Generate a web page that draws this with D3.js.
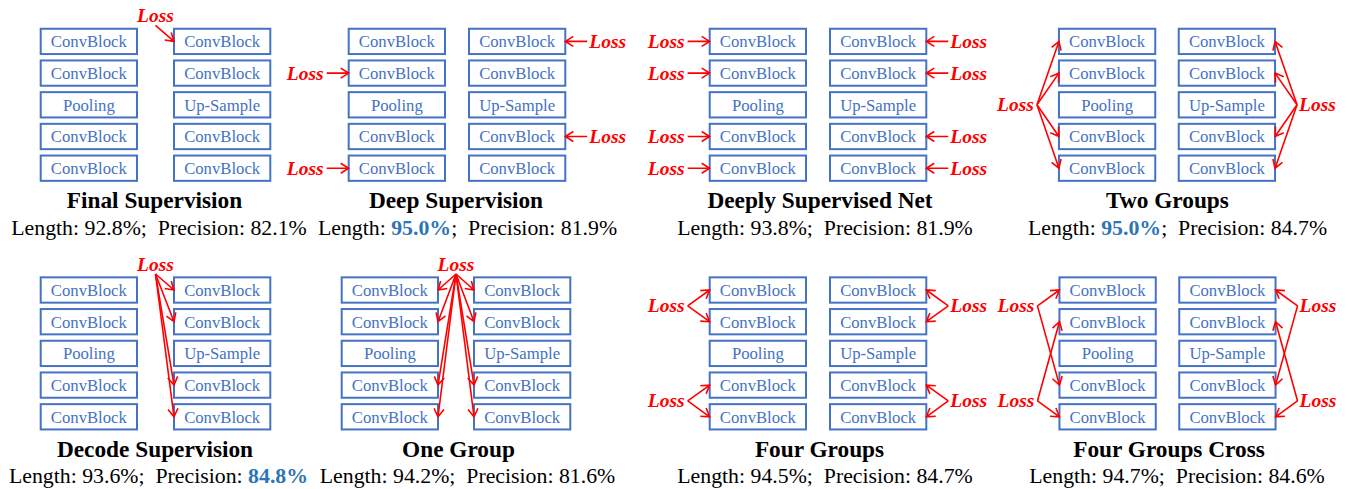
<!DOCTYPE html>
<html>
<head>
<meta charset="utf-8">
<script src="https://cdn.jsdelivr.net/npm/d3@7"></script>
<style>
  body { margin: 0; background: #fff; }
</style>
</head>
<body>
<div id="canvas"></div>
<script>
/* Data */
const panelTitles = ["Final Supervision", "Deep Supervision", "Deeply Supervised Net", "Two Groups",
                     "Decode Supervision", "One Group", "Four Groups", "Four Groups Cross"]
const lengthValues = [92.8, 95.0, 93.8, 95.0, 93.6, 94.2, 94.5, 94.7]
const precisionValues = [82.1, 81.9, 81.9, 84.7, 84.8, 81.6, 84.7, 84.6]
const encoderBlocks = ["ConvBlock", "ConvBlock", "Pooling", "ConvBlock", "ConvBlock"]
const decoderBlocks = ["ConvBlock", "ConvBlock", "Up-Sample", "ConvBlock", "ConvBlock"]
// where each Loss sits (side + row position) and which [column, row] blocks it supervises
const lossSchemes = [
  [{side: "top", at: 0, targets: [[1, 0]]}],
  [{side: "left", at: 1, targets: [[0, 1]]}, {side: "left", at: 4, targets: [[0, 4]]},
   {side: "right", at: 0, targets: [[1, 0]]}, {side: "right", at: 3, targets: [[1, 3]]}],
  [{side: "left", at: 0, targets: [[0, 0]]}, {side: "left", at: 1, targets: [[0, 1]]},
   {side: "left", at: 3, targets: [[0, 3]]}, {side: "left", at: 4, targets: [[0, 4]]},
   {side: "right", at: 0, targets: [[1, 0]]}, {side: "right", at: 1, targets: [[1, 1]]},
   {side: "right", at: 3, targets: [[1, 3]]}, {side: "right", at: 4, targets: [[1, 4]]}],
  [{side: "left", at: 2, targets: [[0, 0], [0, 1], [0, 3], [0, 4]]},
   {side: "right", at: 2, targets: [[1, 0], [1, 1], [1, 3], [1, 4]]}],
  [{side: "top", at: 0, targets: [[1, 0], [1, 1], [1, 3], [1, 4]]}],
  [{side: "top", at: 0, targets: [[0, 0], [0, 1], [0, 3], [0, 4], [1, 0], [1, 1], [1, 3], [1, 4]]}],
  [{side: "left", at: 0.5, targets: [[0, 0], [0, 1]]}, {side: "left", at: 3.5, targets: [[0, 3], [0, 4]]},
   {side: "right", at: 0.5, targets: [[1, 0], [1, 1]]}, {side: "right", at: 3.5, targets: [[1, 3], [1, 4]]}],
  [{side: "left", at: 0.5, targets: [[0, 0], [0, 3]]}, {side: "left", at: 3.5, targets: [[0, 1], [0, 4]]},
   {side: "right", at: 0.5, targets: [[1, 0], [1, 3]]}, {side: "right", at: 3.5, targets: [[1, 1], [1, 4]]}]
]

/* Layout */
const WIDTH = 1348
const HEIGHT = 489
const FONT = "'Liberation Serif', 'Times New Roman', serif"
const PANEL_CENTERS = [155.5, 457, 818, 1167, 155.5, 456, 818, 1167.5]
const TITLE_SHIFT = [-1, -1, 2, 0.5, -0.5, 2.5, 1.5, 1.5]
const METRIC_SHIFT = [3.5, 10.5, 7, 10.5, 3, 11.5, 7, 9.5]
const COLUMN_GAPS = [37, 24, 24, 23.5, 37, 36, 24, 23.5]
const ROW_TOP = [41.4, 290]
const ROW_PITCH = 31.7
const BOX = {"WIDTH": 96.3, "HEIGHT": 25.3}
const COLORS = {"BOX": "#4472C4", "LOSS": "#FF0000", "BEST": "#2E75B6", "TEXT": "#000"}
const ARROW = {"LEN": 22, "HEAD": 8, "HALF": 5}

const maxLength = d3.max(lengthValues)
const maxPrecision = d3.max(precisionValues)

const svg = d3.select("#canvas")
              .append("svg")
              .attr("width", WIDTH)
              .attr("height", HEIGHT)
              .style("font-family", FONT)

const drawArrow = (g, x1, y1, x2, y2) => {
  const a = Math.atan2(y2 - y1, x2 - x1)
  const hx1 = x2 - ARROW.HEAD * Math.cos(a) + ARROW.HALF * Math.sin(a)
  const hy1 = y2 - ARROW.HEAD * Math.sin(a) - ARROW.HALF * Math.cos(a)
  const hx2 = x2 - ARROW.HEAD * Math.cos(a) - ARROW.HALF * Math.sin(a)
  const hy2 = y2 - ARROW.HEAD * Math.sin(a) + ARROW.HALF * Math.cos(a)
  g.append("path")
   .attr("d", `M${x1},${y1}L${x2},${y2}M${hx1},${hy1}L${x2},${y2}L${hx2},${hy2}`)
   .attr("fill", "none")
   .attr("stroke", COLORS.LOSS)
   .attr("stroke-width", 1.6)
}

panelTitles.forEach((title, i) => {
  const cx = PANEL_CENTERS[i]
  const gap = COLUMN_GAPS[i]
  const half = BOX.WIDTH + gap / 2
  const xCol = d3.scaleBand().domain([0, 1]).range([cx - half, cx + half])
                 .paddingInner(gap / (BOX.WIDTH + gap))
  const row0 = ROW_TOP[i < 4 ? 0 : 1]
  const yRow = d3.scaleLinear().domain([0, 4]).range([row0, row0 + 4 * ROW_PITCH])
  const g = svg.append("g")

  // blocks
  const blocks = [encoderBlocks, decoderBlocks].flatMap((col, c) => col.map((name, r) => ({name, c, r})))
  g.selectAll("rect")
   .data(blocks)
   .enter()
   .append("rect")
   .attr("x", (d) => xCol(d.c))
   .attr("y", (d) => yRow(d.r) - BOX.HEIGHT / 2)
   .attr("width", xCol.bandwidth())
   .attr("height", BOX.HEIGHT)
   .attr("fill", "#fff")
   .attr("stroke", COLORS.BOX)
   .attr("stroke-width", 2)
  g.selectAll("text.block")
   .data(blocks)
   .enter()
   .append("text")
   .attr("class", "block")
   .attr("x", (d) => xCol(d.c) + xCol.bandwidth() / 2)
   .attr("y", (d) => yRow(d.r) + 5.8)
   .attr("text-anchor", "middle")
   .attr("font-size", "16.7px")
   .attr("fill", COLORS.BOX)
   .text((d) => d.name)

  // losses
  lossSchemes[i].forEach((loss) => {
    let ox, oy, tx, ty, anchor
    if (loss.side === "left") {
      ox = xCol(0) - ARROW.LEN; oy = yRow(loss.at)
      tx = ox - 3; ty = oy + 6.5; anchor = "end"
    } else if (loss.side === "right") {
      ox = xCol(1) + xCol.bandwidth() + ARROW.LEN; oy = yRow(loss.at)
      tx = ox + 2; ty = oy + 6.5; anchor = "start"
    } else {
      ox = cx; oy = yRow(0) - 16
      tx = cx; ty = oy - 3.5; anchor = "middle"
    }
    loss.targets.forEach(([c, r]) => {
      let ex
      if (loss.side === "left") ex = xCol(c)
      else if (loss.side === "right") ex = xCol(c) + xCol.bandwidth()
      else ex = c === 0 ? xCol(0) + xCol.bandwidth() : xCol(1)
      drawArrow(g, ox, oy, ex, yRow(r))
    })
    g.append("text")
     .attr("x", tx)
     .attr("y", ty)
     .attr("text-anchor", anchor)
     .attr("font-size", "19.5px")
     .attr("font-weight", "bold")
     .attr("font-style", "italic")
     .attr("fill", COLORS.LOSS)
     .text("Loss")
  })

  // title + metrics
  g.append("text")
   .attr("x", cx + TITLE_SHIFT[i])
   .attr("y", row0 + 166.8)
   .attr("text-anchor", "middle")
   .attr("font-size", "23.3px")
   .attr("font-weight", "bold")
   .attr("fill", COLORS.TEXT)
   .text(title)
  const m = g.append("text")
             .attr("x", cx + METRIC_SHIFT[i])
             .attr("y", row0 + 193.3)
             .attr("text-anchor", "middle")
             .attr("font-size", "21.8px")
             .attr("fill", COLORS.TEXT)
             .style("white-space", "pre")
  const part = (str, best) => {
    const t = m.append("tspan").text(str)
    if (best) t.attr("font-weight", "bold").attr("fill", COLORS.BEST)
  }
  part("Length: ", false)
  part(lengthValues[i].toFixed(1) + "%", lengthValues[i] === maxLength)
  part(";  Precision: ", false)
  part(precisionValues[i].toFixed(1) + "%", precisionValues[i] === maxPrecision)
})
</script>
</body>
</html>
